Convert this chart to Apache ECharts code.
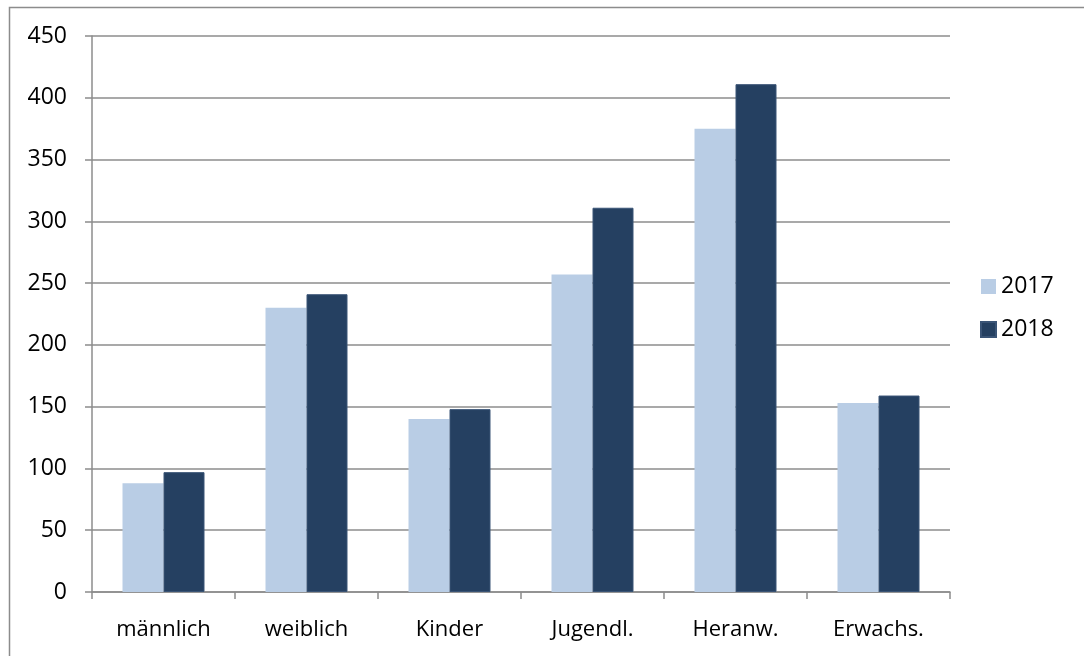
<!doctype html>
<html>
<head>
  <meta charset="utf-8">
  <script src="https://cdn.jsdelivr.net/npm/echarts@6/dist/echarts.min.js"></script>
  <style>
    html, body { margin: 0; padding: 0; background: #fff; }
    #chart { width: 1084px; height: 656px; }
  </style>
</head>
<body>
  <div id="chart"></div>
  <script>
    var categories = ['männlich', 'weiblich', 'Kinder', 'Jugendl.', 'Heranw.', 'Erwachs.'];
    var values2017 = [88, 230, 140, 257, 375, 153];
    var values2018 = [97, 241, 148, 311, 411, 159];
    var yTicks = [0, 50, 100, 150, 200, 250, 300, 350, 400, 450];

    var font = '"Open Sans", "DejaVu Sans", sans-serif';
    var gridColor = '#8c8c8c';

    var myChart = echarts.init(document.getElementById('chart'));
    var option = {
      animation: false,
      textStyle: { fontFamily: font },
      graphic: [{
        // outer chart frame (only top and left edges are visible)
        type: 'rect',
        shape: { x: 9.5, y: 7.5, width: 1200, height: 800 },
        style: { fill: 'none', stroke: '#8c8c8c', lineWidth: 1.5 },
        silent: true
      }],
      grid: { left: 92, right: 134, top: 36, bottom: 64, containLabel: false },
      legend: {
        orient: 'vertical',
        left: 975,
        top: 270,
        itemWidth: 15,
        itemHeight: 15,
        itemGap: 20,
        icon: 'rect',
        textStyle: { fontSize: 23, color: '#000', fontFamily: font },
        data: ['2017', '2018']
      },
      xAxis: {
        type: 'category',
        data: categories,
        axisLine: { lineStyle: { color: gridColor, width: 1.5 } },
        axisTick: { show: true, length: 7, lineStyle: { color: gridColor, width: 1.5 } },
        axisLabel: { fontSize: 22, color: '#000', margin: 27, fontFamily: font }
      },
      yAxis: {
        type: 'value',
        min: yTicks[0],
        max: yTicks[yTicks.length - 1],
        interval: 50,
        axisLine: { show: true, lineStyle: { color: gridColor, width: 1.5 } },
        axisTick: { show: true, inside: false, length: 7, lineStyle: { color: gridColor, width: 1.5 } },
        axisLabel: { fontSize: 23, color: '#000', margin: 25, fontFamily: font },
        splitLine: { show: true, lineStyle: { color: gridColor, width: 1.5 } }
      },
      series: [{
        name: '2017',
        type: 'bar',
        data: values2017,
        barWidth: 41,
        barGap: '0%',
        itemStyle: { color: '#b9cde5' }
      }, {
        name: '2018',
        type: 'bar',
        data: values2018,
        barWidth: 41,
        itemStyle: { color: '#254061', borderColor: '#3a5476', borderWidth: 1 }
      }]
    };
    myChart.setOption(option);
  </script>
</body>
</html>
